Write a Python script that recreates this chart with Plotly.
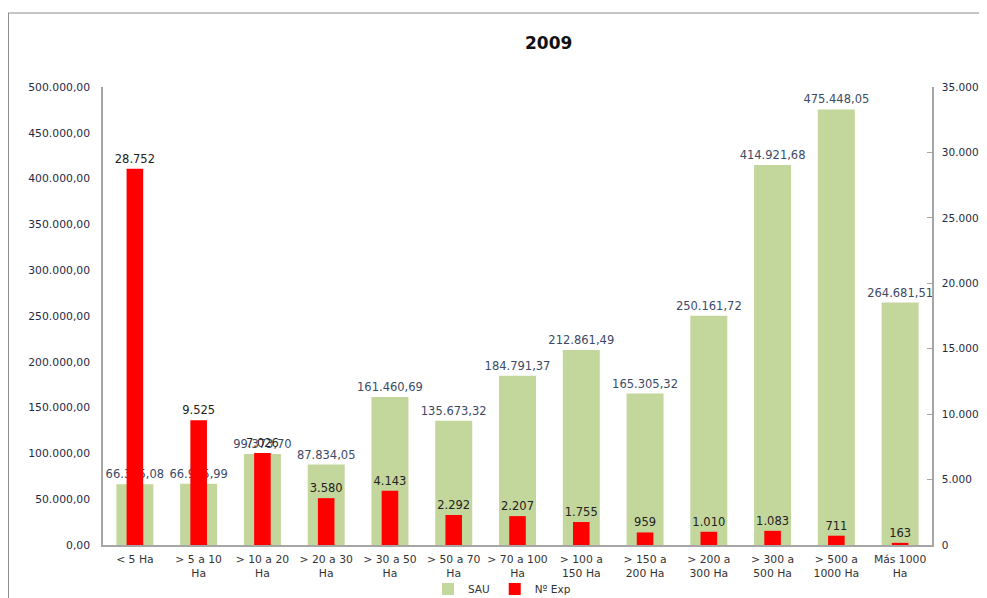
import plotly.graph_objects as go

categories = ["< 5 Ha", "> 5 a 10<br>Ha", "> 10 a 20<br>Ha", "> 20 a 30<br>Ha", "> 30 a 50<br>Ha",
              "> 50 a 70<br>Ha", "> 70 a 100<br>Ha", "> 100 a<br>150 Ha", "> 150 a<br>200 Ha",
              "> 200 a<br>300 Ha", "> 300 a<br>500 Ha", "> 500 a<br>1000 Ha", "Más 1000<br>Ha"]
sau = [66385.08, 66995.99, 99373.70, 87834.05, 161460.69, 135673.32, 184791.37,
       212861.49, 165305.32, 250161.72, 414921.68, 475448.05, 264681.51]
n_exp = [28752, 9525, 7026, 3580, 4143, 2292, 2207, 1755, 959, 1010, 1083, 711, 163]

left_ticks = [0, 50000, 100000, 150000, 200000, 250000, 300000, 350000, 400000, 450000, 500000]
right_ticks = [0, 5000, 10000, 15000, 20000, 25000, 30000, 35000]


def es(v, dec):
    s = f"{v:,.{dec}f}"
    return s.replace(",", "X").replace(".", ",").replace("X", ".")


FONT = "DejaVu Sans"
# page body has an 8px margin: figure is sized/placed to compensate
W, H = 979, 590
L, R, T, B = 95, 55, 79, 53
PW, PH = W - L - R, H - T - B

fig = go.Figure()
fig.add_trace(go.Bar(
    x=categories, y=sau, name="SAU", marker=dict(color="#c3d69b", line=dict(width=0)),
    width=0.58, text=[es(v, 2) for v in sau], textposition="outside",
    textfont=dict(family=FONT, size=11.5, color="#3d4a66"), constraintext="none",
    cliponaxis=False, yaxis="y"))
fig.add_trace(go.Bar(
    x=categories, y=n_exp, name="Nº Exp", marker=dict(color="#ff0000", line=dict(width=0)),
    width=0.26, text=[es(v, 0) for v in n_exp], textposition="outside",
    textfont=dict(family=FONT, size=11.5, color="#222222"), constraintext="none",
    cliponaxis=False, yaxis="y2"))

fig.update_layout(
    width=W, height=H,
    margin=dict(l=L, r=R, t=T, b=B),
    paper_bgcolor="white", plot_bgcolor="white",
    barmode="overlay",
    font=dict(family=FONT, size=11, color="#333333"),
    annotations=[dict(text="<b>2009</b>", x=0.537, y=1.0 + 44 / PH, xref="paper", yref="paper",
                      showarrow=False, font=dict(family=FONT, size=17, color="#111111"),
                      xanchor="center", yanchor="middle")],
    xaxis=dict(showline=True, linecolor="#a6a6a6", linewidth=1.5, ticks="", automargin=False,
               ticklabelstandoff=3,
               tickfont=dict(family=FONT, size=10.8, color="#333333")),
    yaxis=dict(range=[0, 500000], tickvals=left_ticks, ticktext=[es(v, 2) for v in left_ticks],
               showgrid=False, zeroline=False, showline=True, linecolor="#a6a6a6", linewidth=1.5,
               ticks="", ticklen=0, automargin=False, ticklabelstandoff=9,
               tickfont=dict(family=FONT, size=10.8, color="#1f2a44")),
    yaxis2=dict(range=[0, 35000], tickvals=right_ticks, ticktext=[es(v, 0) for v in right_ticks],
                overlaying="y", side="right", showgrid=False, zeroline=False, showline=True,
                linecolor="#a6a6a6", linewidth=1.5, ticks="inside", ticklen=5, tickcolor="#a6a6a6",
                automargin=False, ticklabelstandoff=6,
                tickfont=dict(family=FONT, size=10.5, color="#1f2a44")),
    legend=dict(orientation="h", xref="container", yref="container",
                x=(502 - 8) / W, xanchor="center", y=9 / H, yanchor="middle",
                itemwidth=30, tracegroupgap=0, bgcolor="rgba(0,0,0,0)",
                font=dict(family=FONT, size=10.5, color="#333333")),
    shapes=[
        dict(type="line", xref="paper", yref="paper", x0=(0 - L) / PW, x1=(W + 5 - L) / PW,
             y0=(H - B - 5) / PH, y1=(H - B - 5) / PH, line=dict(color="#8c8c8c", width=1)),
        dict(type="line", xref="paper", yref="paper", x0=(0.5 - L) / PW, x1=(0.5 - L) / PW,
             y0=(H - B - 5) / PH, y1=-(B + 10) / PH, line=dict(color="#8c8c8c", width=1)),
    ],
)
fig.write_html("out.html")
